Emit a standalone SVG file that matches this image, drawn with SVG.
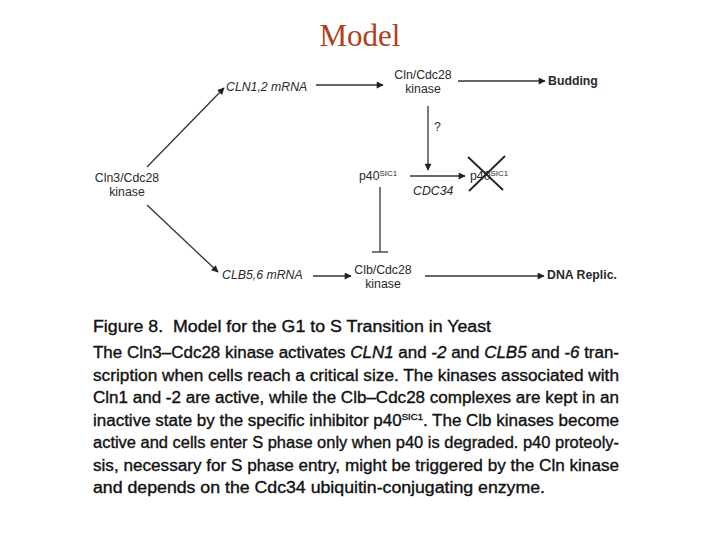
<svg xmlns="http://www.w3.org/2000/svg" width="720" height="540" viewBox="0 0 720 540">
<defs>
<marker id="ah" viewBox="0 0 10 10" refX="9" refY="5" markerWidth="9" markerHeight="7" markerUnits="userSpaceOnUse" orient="auto">
<path d="M0,0 L10,5 L0,10 z" fill="#222"/>
</marker>
<style>
.d{font-family:"Liberation Sans",Arial,sans-serif;font-size:12.3px;fill:#2a2a2a}
.b{font-weight:bold}
.i{font-style:italic}
.sup{font-size:8px}
.c{font-family:"Liberation Sans",Arial,sans-serif;font-size:16px;fill:#111;stroke:#111;stroke-width:0.35}
.ln{stroke:#333;stroke-width:1.3;fill:none}
</style>
</defs>
<rect width="720" height="540" fill="#fff"/>
<text x="360" y="46" text-anchor="middle" font-family="'Liberation Serif','Times New Roman',serif" font-size="31" fill="#B0401C">Model</text>

<g id="connectors">
<line class="ln" x1="147" y1="167" x2="224" y2="88" marker-end="url(#ah)"/>
<line class="ln" x1="147" y1="205" x2="218" y2="272" marker-end="url(#ah)"/>
<line class="ln" x1="316" y1="85" x2="383" y2="85" marker-end="url(#ah)"/>
<line class="ln" x1="458" y1="81" x2="545" y2="81" marker-end="url(#ah)"/>
<line class="ln" x1="428" y1="106" x2="428" y2="170" marker-end="url(#ah)"/>
<line class="ln" x1="410" y1="176" x2="465" y2="176" marker-end="url(#ah)"/>
<line class="ln" x1="313" y1="276" x2="351" y2="276" marker-end="url(#ah)"/>
<line class="ln" x1="425" y1="276" x2="544" y2="276" marker-end="url(#ah)"/>
<line class="ln" x1="380" y1="187" x2="380" y2="252"/>
<line class="ln" x1="372" y1="252" x2="388" y2="252" stroke-width="1.6"/>
</g>

<g id="cln3"><text class="d" x="127" y="182" text-anchor="middle">Cln3/Cdc28</text><text class="d" x="127" y="196" text-anchor="middle">kinase</text></g>
<g id="cln12"><text class="d i" x="226" y="91">CLN1,2 mRNA</text></g>
<g id="clb56"><text class="d i" x="222" y="279">CLB5,6 mRNA</text></g>
<g id="clncdc28"><text class="d" x="423" y="79" text-anchor="middle">Cln/Cdc28</text><text class="d" x="423" y="93" text-anchor="middle">kinase</text></g>
<g id="budding"><text class="d b" x="548" y="85">Budding</text></g>
<g id="q"><text class="d" x="434" y="131" font-size="9">?</text></g>
<g id="p40"><text class="d" x="359" y="180">p40<tspan class="sup" dy="-4">SIC1</tspan></text></g>
<g id="cdc34"><text class="d i" x="413" y="195">CDC34</text></g>
<g id="p40deg"><text class="d" x="470" y="180">p40<tspan class="sup" dy="-4">SIC1</tspan></text>
<line x1="468" y1="157" x2="503" y2="190" stroke="#222" stroke-width="1.8"/>
<line x1="505" y1="156" x2="469" y2="191" stroke="#222" stroke-width="1.8"/></g>
<g id="clbcdc28"><text class="d" x="383" y="274" text-anchor="middle">Clb/Cdc28</text><text class="d" x="383" y="288" text-anchor="middle">kinase</text></g>
<g id="dna"><text class="d b" x="547" y="279">DNA Replic.</text></g>

<g id="caption">
<text class="c" x="93" y="332" textLength="398" lengthAdjust="spacingAndGlyphs" xml:space="preserve">Figure 8.  Model for the G1 to S Transition in Yeast</text>
<text class="c" x="93" y="358" textLength="526" lengthAdjust="spacingAndGlyphs">The Cln3–Cdc28 kinase activates <tspan font-style="italic">CLN1</tspan> and <tspan font-style="italic">-2</tspan> and <tspan font-style="italic">CLB5</tspan> and <tspan font-style="italic">-6</tspan> tran-</text>
<text class="c" x="93" y="380.5" textLength="526" lengthAdjust="spacingAndGlyphs">scription when cells reach a critical size. The kinases associated with</text>
<text class="c" x="93" y="403" textLength="526" lengthAdjust="spacingAndGlyphs">Cln1 and -2 are active, while the Clb–Cdc28 complexes are kept in an</text>
<text class="c" x="93" y="425.5" textLength="526" lengthAdjust="spacingAndGlyphs">inactive state by the specific inhibitor p40<tspan font-size="9" dy="-6">SIC1</tspan><tspan dy="6">. The Clb kinases become</tspan></text>
<text class="c" x="93" y="448" textLength="526" lengthAdjust="spacingAndGlyphs">active and cells enter S phase only when p40 is degraded. p40 proteoly-</text>
<text class="c" x="93" y="470.5" textLength="526" lengthAdjust="spacingAndGlyphs">sis, necessary for S phase entry, might be triggered by the Cln kinase</text>
<text class="c" x="93" y="493" textLength="452" lengthAdjust="spacingAndGlyphs">and depends on the Cdc34 ubiquitin-conjugating enzyme.</text>
</g>
</svg>
